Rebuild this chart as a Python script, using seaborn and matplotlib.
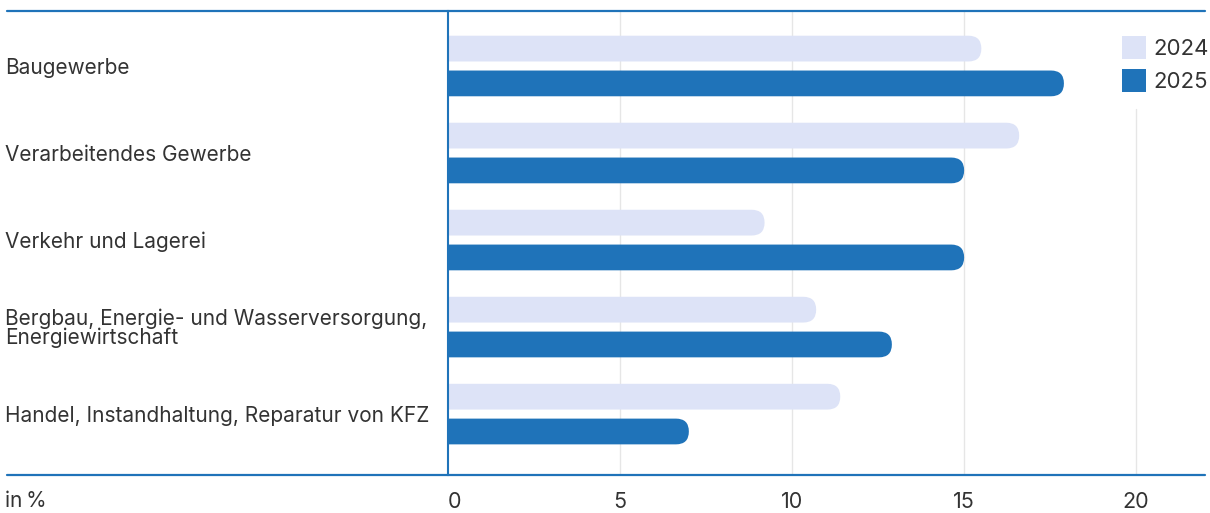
import numpy as np
import pandas as pd
import matplotlib
matplotlib.use("Agg")
import matplotlib.pyplot as plt
import matplotlib.patches as mpatches
import seaborn as sns

# data (in %)
categories = [
    "Baugewerbe",
    "Verarbeitendes Gewerbe",
    "Verkehr und Lagerei",
    "Bergbau, Energie- und Wasserversorgung,\nEnergiewirtschaft",
    "Handel, Instandhaltung, Reparatur von KFZ",
]
years = ["2024", "2025"]
values_2024 = [15.5, 16.6, 9.2, 10.7, 11.4]
values_2025 = [17.9, 15.0, 15.0, 12.9, 7.0]
xticks = [0, 5, 10, 15, 20]

light = "#dde3f7"
dark = "#1f73b9"
text_col = "#333333"

df = pd.DataFrame({
    "category": categories * 2,
    "year": [years[0]] * len(categories) + [years[1]] * len(categories),
    "value": values_2024 + values_2025,
})

sns.set_style("white")
plt.rcParams["font.family"] = ["Inter", "DejaVu Sans"]

W, H = 1210, 513
fig = plt.figure(figsize=(W / 100, H / 100), dpi=100)
ax_left, ax_right, ax_top, ax_bot = 448, 1205, 11, 475
ax = fig.add_axes([ax_left / W, 1 - ax_bot / H, (ax_right - ax_left) / W, (ax_bot - ax_top) / H])

sns.barplot(data=df, x="value", y="category", hue="year", palette=[light, dark],
            saturation=1, width=0.8, gap=0.26, orient="h", ax=ax, legend=False, zorder=3)

xmax = 22.0
ymin, ymax = 4.70, -0.632
ax.set_xlim(0, xmax)
ax.set_ylim(ymin, ymax)

# round the right ends of the bars
px_x = (ax_right - ax_left) / xmax
px_y = (ax_bot - ax_top) / (ymin - ymax)
for p in list(ax.patches):
    x0, y0, w, h = p.get_x(), p.get_y(), p.get_width(), p.get_height()
    fc = p.get_facecolor()
    p.remove()
    r_px = h * px_y / 2
    rx = r_px / px_x
    asp = (h / 2) / rx
    ax.add_patch(mpatches.FancyBboxPatch(
        (x0 - rx, y0), w + rx, h,
        boxstyle=f"round,pad=0,rounding_size={rx}",
        mutation_aspect=asp, facecolor=fc, edgecolor="none", zorder=3))

# grid lines (the one at 20 stops below the legend)
for t in xticks[1:]:
    top = 1.0 if t < 20 else (ax_bot - 109) / (ax_bot - ax_top)
    ax.axvline(t, ymin=0, ymax=top, color="#e6e6e6", lw=1, zorder=1)

for s in ["top", "bottom", "right"]:
    ax.spines[s].set_visible(False)
ax.spines["left"].set_color(dark)
ax.spines["left"].set_linewidth(1.5)
ax.spines["left"].set_zorder(5)

ext = (ax_left - 7) / (ax_right - ax_left)
for yy in [ymin, ymax]:
    ax.axhline(yy, xmin=-ext, xmax=1, color=dark, lw=1.6, clip_on=False, zorder=5)

ax.set_xlabel("")
ax.set_ylabel("")
ax.set_xticks(xticks)
ax.set_xticklabels([str(t) for t in xticks])
ax.tick_params(axis="x", length=0, pad=12, labelsize=15.5, labelcolor=text_col)
ax.get_xticklabels()[0].set_ha("left")
ax.tick_params(axis="y", length=0, pad=(ax_left - 5) * 0.72, labelsize=15, labelcolor=text_col)
for lab in ax.get_yticklabels():
    lab.set_ha("left")
    lab.set_linespacing(0.9)

fig.text(5 / W, 1 - 501 / H, "in\u2009%", ha="left", va="center", fontsize=15, color=text_col)

handles = [mpatches.Patch(facecolor=light, edgecolor="none"),
           mpatches.Patch(facecolor=dark, edgecolor="none")]
ax.legend(handles, years, loc="upper left", bbox_to_anchor=(1122 / W, 1 - 36 / H),
          bbox_transform=fig.transFigure, frameon=False, borderpad=0, borderaxespad=0,
          handlelength=1.1, handleheight=1.2, handletextpad=0.3, labelspacing=0.45,
          fontsize=16, labelcolor=text_col)

fig.savefig("out.png", dpi=100)
